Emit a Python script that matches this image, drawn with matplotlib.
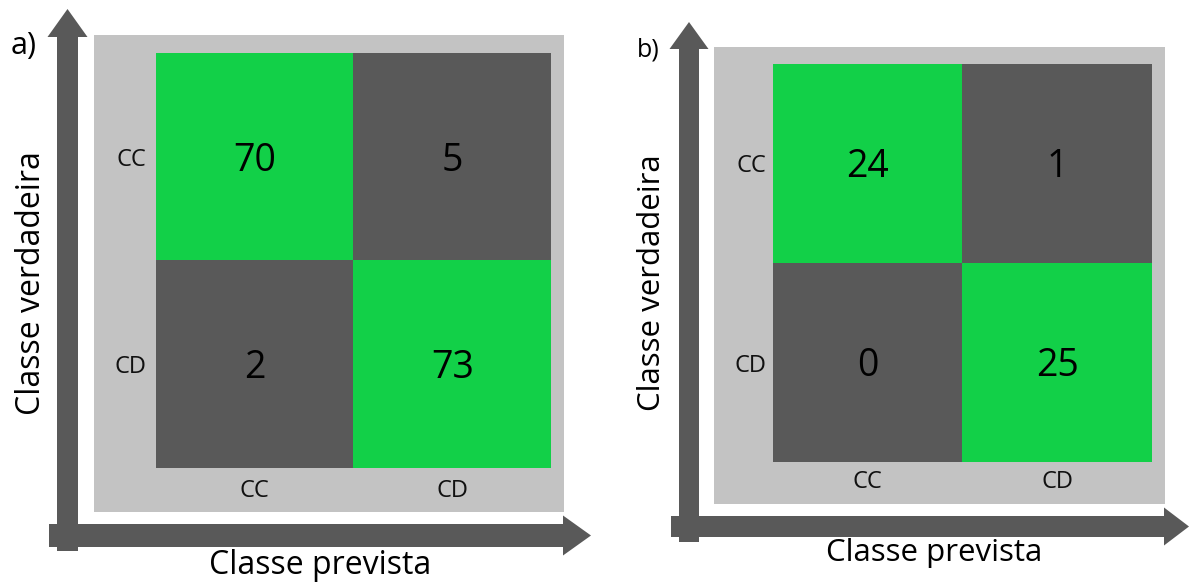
import matplotlib
matplotlib.use("Agg")
import matplotlib.pyplot as plt
import numpy as np
from matplotlib.colors import ListedColormap
from matplotlib.patches import FancyArrow, Rectangle

plt.rcParams['font.family'] = ['Open Sans', 'DejaVu Sans']

# confusion matrices (rows: true class, columns: predicted class)
classes = ['CC', 'CD']
tags = ['a)', 'b)']
conf_a = np.array([[70, 5], [2, 73]])
conf_b = np.array([[24, 1], [0, 25]])

GREEN = '#12d048'
DARK = '#595959'
LIGHT = '#c3c3c3'

W, H = 1190, 585
fig = plt.figure(figsize=(W / 100, H / 100), dpi=100)

# overlay in pixel units for the grey frames, arrows and titles
bg = fig.add_axes([0, 0, 1, 1])
bg.set_xlim(0, W)
bg.set_ylim(H, 0)
bg.axis('off')


def px_box(x0, y0, x1, y1):
    return [x0 / W, 1 - y1 / H, (x1 - x0) / W, (y1 - y0) / H]


def arrow(x0, y0, x1, y1, width, head_width, head_len):
    bg.add_patch(FancyArrow(x0, y0, x1 - x0, y1 - y0, width=width,
                            head_width=head_width, head_length=head_len,
                            length_includes_head=True, color=DARK, lw=0))


def draw_matrix(cm, box, pad_y, pad_x):
    ax = fig.add_axes(px_box(*box))
    mask = np.eye(len(classes))
    ax.imshow(mask, cmap=ListedColormap([DARK, GREEN]), aspect='auto',
              vmin=0, vmax=1)
    for i in range(cm.shape[0]):
        for j in range(cm.shape[1]):
            ax.text(j, i + 0.02, str(cm[i, j]), ha='center', va='center',
                    fontsize=27, color='black')
    ax.set_xticks(range(len(classes)), classes, fontsize=17)
    ax.set_yticks(range(len(classes)), classes, fontsize=17)
    ax.tick_params(axis='x', length=0, pad=pad_x, colors='#111111')
    ax.tick_params(axis='y', length=0, pad=pad_y, colors='#111111')
    for s in ax.spines.values():
        s.set_visible(False)
    return ax


# panel a
bg.add_patch(Rectangle((94, 35), 470, 477, color=LIGHT, lw=0))
arrow(67.5, 551, 67.5, 9, 21, 40, 28)
arrow(49, 535.5, 591, 535.5, 23, 40, 28)
bg.text(24, 46, tags[0], ha='center', va='center', fontsize=22)
bg.text(32, 283, 'Classe verdadeira', rotation=90, ha='center',
        va='center', fontsize=23)
bg.text(320, 566, 'Classe prevista', ha='center', va='center', fontsize=23)
draw_matrix(conf_a, (156, 53, 551, 468), 7, 8)

# panel b
bg.add_patch(Rectangle((714, 47), 451, 457, color=LIGHT, lw=0))
arrow(689, 542, 689, 22, 20, 39, 27)
arrow(671, 526.5, 1189, 526.5, 21, 38, 25)
bg.text(648, 50, tags[1], ha='center', va='center', fontsize=18)
bg.text(652, 283, 'Classe verdadeira', rotation=90, ha='center',
        va='center', fontsize=22.5)
bg.text(934, 553, 'Classe prevista', ha='center', va='center', fontsize=22.5)
draw_matrix(conf_b, (773, 64, 1152, 462), 5, 6)

fig.savefig('out.png', dpi=100)
